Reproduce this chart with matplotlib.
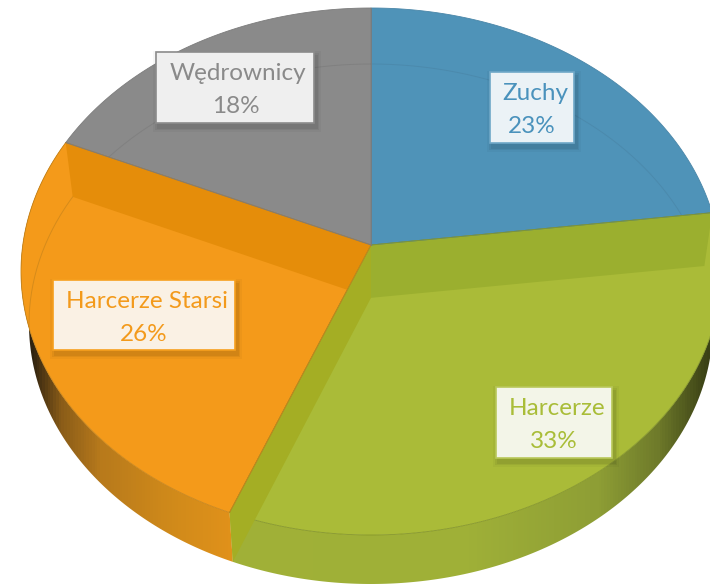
import numpy as np
import matplotlib
matplotlib.use('Agg')
import matplotlib.pyplot as plt
from matplotlib.colors import LinearSegmentedColormap
from matplotlib.patches import Polygon, Rectangle

# Chart data
categories = ['Zuchy', 'Harcerze', 'Harcerze Starsi', 'Wędrownicy']
values = [23, 33, 25.7, 18.3]
percent_labels = ['23%', '33%', '26%', '18%']

# Styles, same order as categories
face_colors = ['#4F93B8', '#AABB38', '#F49A1A', '#8A8A8A']
edge_colors = ['#4A86A8', '#85962A', '#C9851A', '#7C7C7C']
text_colors = ['#4A92BC', '#A9BD38', '#F39A1B', '#8A8A8A']
box_fills = ['#EBF2F6', '#F3F5E8', '#FAF1E4', '#EFEFEF']
box_edges = ['#6FA8C8', '#B9C85A', '#F7A01E', '#8C8C8C']
box_rects = [(490, 72, 84, 71), (496, 387, 116, 71), (53, 280, 182, 70), (156, 52, 158, 71)]
text_x = [535, 557, 147, 238]
pct_x = [532, 554, 144, 236]

# Perspective disc geometry in pixels
TOP = dict(a=350, b=263.5, cx=371, cy=271.5)
BOTTOM = dict(a=342, b=260, cx=371, cy=324)
TILT = -0.1006


def rim(frac, a, b, cx, cy):
    """Point on a disc rim for a clockwise fraction of the circle, with perspective"""
    theta = 2 * np.pi * np.asarray(frac, dtype=float)
    x, y = np.sin(theta), -np.cos(theta)
    d = 1 + TILT * y
    return np.column_stack([cx + a * x * np.sqrt(1 - TILT ** 2) / d, cy + b * (y + TILT) / d])


def centre(a, b, cx, cy):
    return np.array([cx, cy + b * TILT])


def arc(f0, f1, disc):
    return rim(np.linspace(f0, f1, 200), **disc)


fig = plt.figure(figsize=(7.10, 5.86), dpi=100)
ax = fig.add_axes([0, 0, 1, 1])
ax.set_xlim(0, 710)
ax.set_ylim(586, 0)
ax.axis('off')

edges = np.concatenate([[0], np.cumsum(values)]) / np.sum(values)

# Outer wall, shaded from left to right (stops are x pixel, colour)
side_maps = {
    1: [(0, '#A2B236'), (470, '#9FB038'), (600, '#8E9E35'), (660, '#6E7A2A'), (710, '#3A4015')],
    2: [(0, '#2E2210'), (30, '#2E2210'), (60, '#8A5C18'), (100, '#B87A1C'), (170, '#D08A1A'),
        (235, '#E2921A'), (710, '#E2921A')],
}
for i, stops in side_maps.items():
    cmap = LinearSegmentedColormap.from_list('side%d' % i, [(x / 710, c) for x, c in stops])
    grad = np.linspace(0, 1, 710)[None, :]
    im = ax.imshow(grad, cmap=cmap, extent=(0, 710, 586, 0), aspect='auto', zorder=1)
    outline = np.vstack([arc(edges[i], edges[i + 1], TOP), arc(edges[i + 1], edges[i], BOTTOM)])
    clip = Polygon(outline, closed=True, transform=ax.transData)
    im.set_clip_path(clip)
ax.set_xlim(0, 710)
ax.set_ylim(586, 0)

# Top faces
wedges = []
for i in range(len(values)):
    pts = np.vstack([centre(**TOP), arc(edges[i], edges[i + 1], TOP)])
    wedge = Polygon(pts, closed=True, facecolor=face_colors[i], edgecolor=edge_colors[i],
                    linewidth=0.6, zorder=2)
    ax.add_patch(wedge)
    wedges.append(wedge)

# Bottom rim seen through the faces
bottom_ring = arc(0, 1, BOTTOM)
for i in [0, 2, 3]:
    line, = ax.plot(bottom_ring[:, 0], bottom_ring[:, 1], color=edge_colors[i], lw=0.7,
                    alpha=0.7, zorder=3)
    line.set_clip_path(wedges[i])


def wall(frac, color, clip_to=None):
    """Inner wall of a slice between top and bottom disc"""
    pts = np.vstack([centre(**TOP), rim([frac], **TOP), rim([frac], **BOTTOM), centre(**BOTTOM)])
    p = Polygon(pts, closed=True, facecolor=color, edgecolor='none', zorder=3)
    ax.add_patch(p)
    if clip_to is not None:
        p.set_clip_path(clip_to)


wall(edges[1], '#9BAF2F', wedges[1])
wall(edges[2], '#A4AE24')
wall(edges[3], '#E58D0A', wedges[2])

# Redraw slice borders over the walls
for i in range(len(values)):
    for f in (edges[i], edges[i + 1]):
        seg = np.vstack([centre(**TOP), rim([f], **TOP)])
        ax.plot(seg[:, 0], seg[:, 1], color=edge_colors[i], lw=0.6, zorder=4)

# Labels
for i, name in enumerate(categories):
    x, y, w, h = box_rects[i]
    for grow, alpha in [(10, 0.03), (6, 0.05), (3, 0.06)]:
        ax.add_patch(Rectangle((x + 2 - grow / 2, y + 4 - grow / 2), w + grow, h + grow,
                               facecolor='black', edgecolor='none', alpha=alpha, zorder=5))
    ax.add_patch(Rectangle((x, y), w, h, facecolor=box_fills[i], edgecolor=box_edges[i],
                           linewidth=1.2, zorder=6))
    ax.text(text_x[i], y + 28, name, color=text_colors[i], fontsize=17.5, family='Lato',
            ha='center', va='baseline', zorder=7)
    ax.text(pct_x[i], y + 61, percent_labels[i], color=text_colors[i], fontsize=17.5, family='Lato',
            ha='center', va='baseline', zorder=7)

fig.savefig('out.png', dpi=100)
